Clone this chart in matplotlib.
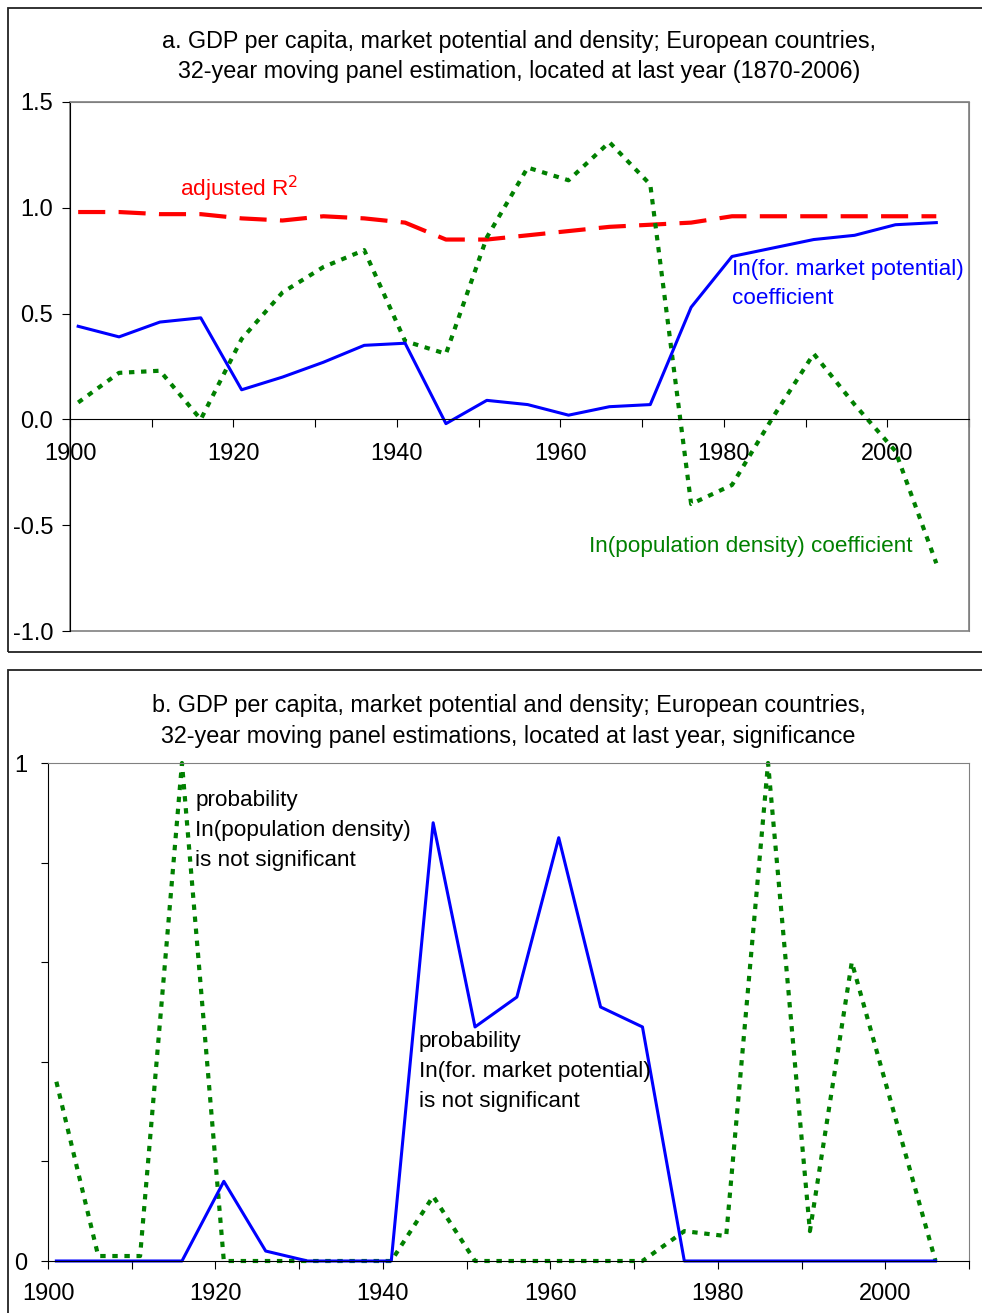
import matplotlib
matplotlib.use("Agg")
import matplotlib.pyplot as plt
from matplotlib.patches import Rectangle

plt.rcParams['font.family'] = ['Liberation Sans', 'DejaVu Sans']

# last year of each 32-year window
years = [1901, 1906, 1911, 1916, 1921, 1926, 1931, 1936, 1941, 1946, 1951,
         1956, 1961, 1966, 1971, 1976, 1981, 1986, 1991, 1996, 2001, 2006]

# panel a: coefficients and fit
mp_coef = [0.44, 0.39, 0.46, 0.48, 0.14, 0.20, 0.27, 0.35, 0.36, -0.02, 0.09,
           0.07, 0.02, 0.06, 0.07, 0.53, 0.77, 0.81, 0.85, 0.87, 0.92, 0.93]
adj_r2 = [0.98, 0.98, 0.97, 0.97, 0.95, 0.94, 0.96, 0.95, 0.93, 0.85, 0.85,
          0.87, 0.89, 0.91, 0.92, 0.93, 0.96, 0.96, 0.96, 0.96, 0.96, 0.96]
dens_coef = [0.08, 0.22, 0.23, 0.00, 0.38, 0.60, 0.72, 0.80, 0.37, 0.31, 0.86,
             1.19, 1.13, 1.31, 1.11, -0.40, -0.31, 0.01, 0.31, 0.07, -0.15, -0.68]

# panel b: probabilities (not significant)
mp_prob = [0.0, 0.0, 0.0, 0.0, 0.16, 0.02, 0.0, 0.0, 0.0, 0.88, 0.47,
           0.53, 0.85, 0.51, 0.47, 0.0, 0.0, 0.0, 0.0, 0.0, 0.0, 0.0]
dens_prob = [0.36, 0.01, 0.01, 1.0, 0.0, 0.0, 0.0, 0.0, 0.0, 0.13, 0.0,
             0.0, 0.0, 0.0, 0.0, 0.06, 0.05, 1.0, 0.06, 0.6, 0.30, 0.0]

W, H = 982, 1313
fig = plt.figure(figsize=(W / 100, H / 100), dpi=100)

def px_rect(x0, y0, x1, y1):
    # pixel box (top-left origin) -> figure fraction [left, bottom, width, height]
    return [x0 / W, 1 - y1 / H, (x1 - x0) / W, (y1 - y0) / H]

BLUE = '#0000FF'
RED = '#FF0000'
GREEN = '#008000'
GREY = '#808080'
FS_TITLE = 16.8
FS_TEXT = 16.2
FS_TICK = 17

# outer frames of the two charts
for y0, y1 in [(8, 652), (670, 1318)]:
    l, b, w, h = px_rect(8, y0, 990, y1)
    fig.add_artist(Rectangle((l, b), w, h, transform=fig.transFigure,
                             fill=False, edgecolor='#222222', lw=1.3))

# ---- panel a ----
ax = fig.add_axes(px_rect(70, 102, 969, 631))
ax.plot(years, adj_r2, color=RED, lw=3, linestyle=(0, (6.5, 3.2)))
ax.plot(years, dens_coef, color=GREEN, lw=3, linestyle=(0, (1.3, 1.6)))
ax.plot(years, mp_coef, color=BLUE, lw=2.2)
ax.set_xlim(1900, 2010)
ax.set_ylim(-1.0, 1.5)
for s in ['top', 'right']:
    ax.spines[s].set_color(GREY)
ax.spines['bottom'].set_position(('data', 0))
ax.spines['bottom'].set_color('black')
ax.spines['left'].set_color('black')
ax.add_patch(Rectangle((0, 0), 1, 1, transform=ax.transAxes, fill=False,
                       edgecolor=GREY, lw=1.2, clip_on=False, zorder=0))
ax.set_xticks(range(1900, 2011, 10))
ax.set_xticklabels([str(y) if y % 20 == 0 and y < 2010 else '' for y in range(1900, 2011, 10)])
ax.set_yticks([-1.0, -0.5, 0.0, 0.5, 1.0, 1.5])
ax.set_yticklabels(['-1.0', '-0.5', '0.0', '0.5', '1.0', '1.5'])
ax.tick_params(axis='x', direction='out', length=6, pad=11, labelsize=FS_TICK)
ax.tick_params(axis='y', direction='out', length=6, pad=6, labelsize=FS_TICK)
ax.text(0.5, 1.035, 'a. GDP per capita, market potential and density; European countries,\n'
        '32-year moving panel estimation, located at last year (1870-2006)',
        transform=ax.transAxes, ha='center', va='bottom', fontsize=FS_TITLE, linespacing=1.42)
ax.text(1913.4, 1.09, 'adjusted R$^2$', color=RED, fontsize=FS_TEXT, va='center')
ax.text(1981, 0.64, 'In(for. market potential)\ncoefficient', color=BLUE,
        fontsize=FS_TEXT, va='center', linespacing=1.55)
ax.text(1963.5, -0.60, 'In(population density) coefficient', color=GREEN,
        fontsize=FS_TEXT, va='center')

# ---- panel b ----
bx = fig.add_axes(px_rect(48, 763, 969, 1261))
bx.plot(years, dens_prob, color=GREEN, lw=3, linestyle=(0, (1.3, 1.6)), clip_on=False)
bx.plot(years, mp_prob, color=BLUE, lw=2.2, clip_on=False)
bx.set_xlim(1900, 2010)
bx.set_ylim(0, 1)
for s in ['top', 'right']:
    bx.spines[s].set_color(GREY)
bx.set_xticks(range(1900, 2011, 10))
bx.set_xticklabels([str(y) if y % 20 == 0 and y < 2010 else '' for y in range(1900, 2011, 10)])
bx.set_yticks([0, 0.2, 0.4, 0.6, 0.8, 1.0])
bx.set_yticklabels(['0', '', '', '', '', '1'])
bx.tick_params(axis='x', direction='out', length=6, pad=10, labelsize=FS_TICK)
bx.tick_params(axis='y', direction='out', length=5, pad=10, labelsize=FS_TICK)
bx.text(0.5, 1.03, 'b. GDP per capita, market potential and density; European countries,\n'
        '32-year moving panel estimations, located at last year, significance',
        transform=bx.transAxes, ha='center', va='bottom', fontsize=FS_TITLE, linespacing=1.45)
bx.text(1917.6, 0.865, 'probability\nIn(population density)\nis not significant',
        fontsize=FS_TEXT, va='center', linespacing=1.55)
bx.text(1944.3, 0.38, 'probability\nIn(for. market potential)\nis not significant',
        fontsize=FS_TEXT, va='center', linespacing=1.55)

fig.savefig('out.png', dpi=100)
